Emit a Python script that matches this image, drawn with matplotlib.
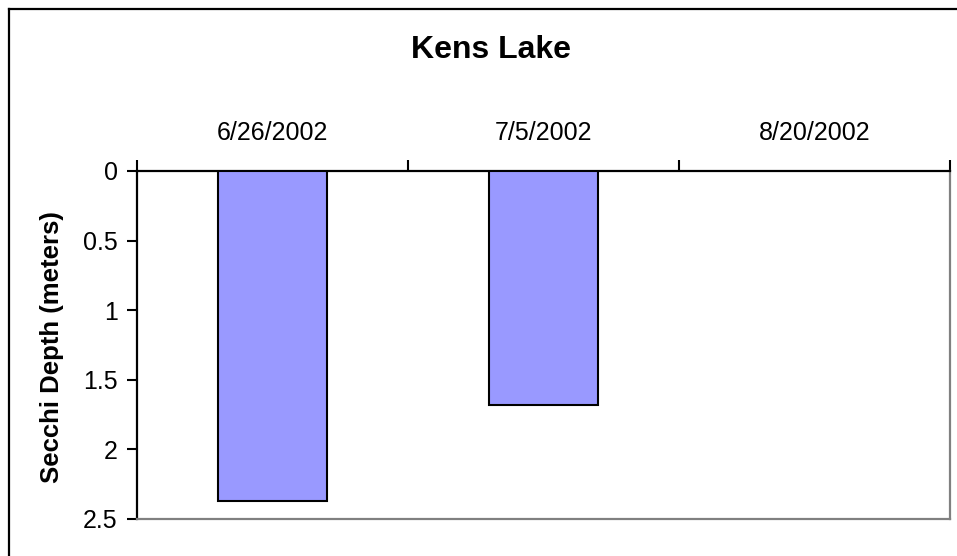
import numpy as np
import matplotlib
matplotlib.use("Agg")
import matplotlib.pyplot as plt
from matplotlib.lines import Line2D

plt.rcParams['font.family'] = ['Liberation Sans', 'DejaVu Sans']

title = "Kens Lake"
categories = ["6/26/2002", "7/5/2002", "8/20/2002"]
secchi_depth = [2.37, 1.68, np.nan]
y_ticks = [0, 0.5, 1, 1.5, 2, 2.5]
y_label = "Secchi Depth (meters)"

W, H = 957, 556
fig = plt.figure(figsize=(W / 100, H / 100), dpi=100)

def fx(px):
    return px / W

def fy(py):
    return 1 - py / H

ax = fig.add_axes([fx(137), fy(519), fx(950) - fx(137), fy(171) - fy(519)])

x = np.arange(len(categories)) + 0.5
ax.bar(x, secchi_depth, width=0.4, color="#9999FF", edgecolor="black", linewidth=1.5, zorder=3)

ax.set_xlim(0, len(categories))
ax.set_ylim(2.5, 0)
ax.set_yticks(y_ticks)
ax.set_yticklabels([f"{v:g}" for v in y_ticks])
ax.tick_params(axis="y", which="major", direction="out", length=7, width=1.5, labelsize=18, pad=7)

ax.xaxis.set_ticks_position("top")
ax.set_xticks(np.arange(len(categories) + 1))
ax.set_xticklabels([])
ax.set_xticks(x, minor=True)
ax.set_xticklabels(categories, minor=True)
ax.tick_params(axis="x", which="major", direction="out", length=8, width=1.5)
ax.tick_params(axis="x", which="minor", length=0, labelsize=18, pad=19)

for side in ["top", "left"]:
    ax.spines[side].set_color("black")
    ax.spines[side].set_linewidth(1.6)
for side in ["right", "bottom"]:
    ax.spines[side].set_color("#808080")
    ax.spines[side].set_linewidth(1.6)

fig.text(fx(491), fy(50), title, ha="center", va="center", fontsize=23, fontweight="bold")
fig.text(fx(52), fy(347), y_label, ha="center", va="center", rotation=90, fontsize=18.5, fontweight="bold")

# outer chart border (only top and left visible in frame)
fig.add_artist(Line2D([fx(9), fx(9)], [0, fy(9)], color="black", linewidth=1.6, transform=fig.transFigure))
fig.add_artist(Line2D([fx(9), 1], [fy(9), fy(9)], color="black", linewidth=1.6, transform=fig.transFigure))

fig.savefig("out.png", dpi=100)
